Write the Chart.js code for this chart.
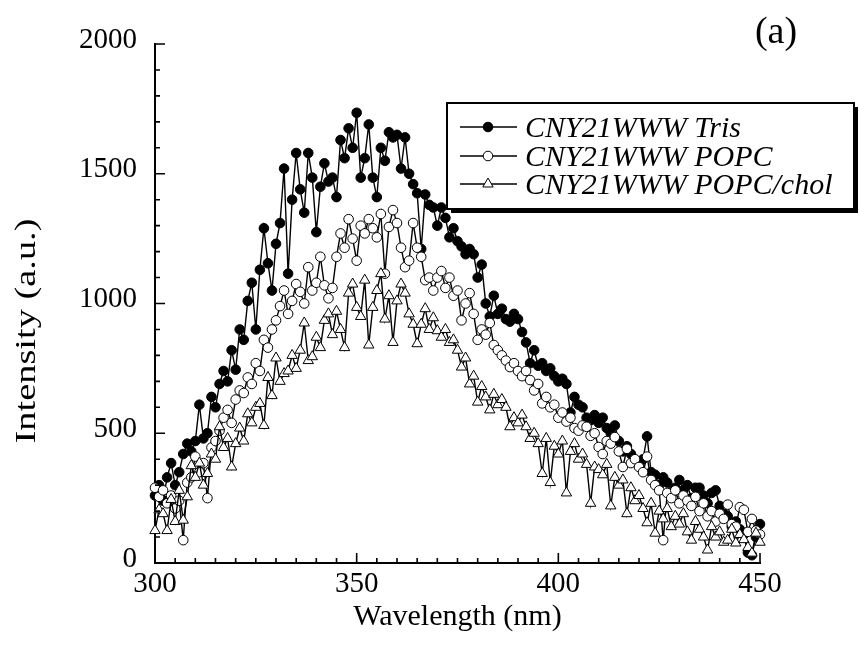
<!DOCTYPE html>
<html>
<head>
<meta charset="utf-8">
<script src="https://cdn.jsdelivr.net/npm/chart.js@4.4.1/dist/chart.umd.min.js"></script>
<style>
  html, body { margin: 0; padding: 0; background: #fff; }
  #wrap { position: relative; width: 860px; height: 649px; }
</style>
</head>
<body>
<div id="wrap"><canvas id="chart_intensity"></canvas></div>
<script>
// wavelength in nm, one reading per nm
var wavelength = [
  300, 301, 302, 303, 304, 305, 306, 307, 308, 309, 310, 311, 312, 313, 314, 315, 316, 317, 318, 319,
  320, 321, 322, 323, 324, 325, 326, 327, 328, 329, 330, 331, 332, 333, 334, 335, 336, 337, 338, 339,
  340, 341, 342, 343, 344, 345, 346, 347, 348, 349, 350, 351, 352, 353, 354, 355, 356, 357, 358, 359,
  360, 361, 362, 363, 364, 365, 366, 367, 368, 369, 370, 371, 372, 373, 374, 375, 376, 377, 378, 379,
  380, 381, 382, 383, 384, 385, 386, 387, 388, 389, 390, 391, 392, 393, 394, 395, 396, 397, 398, 399,
  400, 401, 402, 403, 404, 405, 406, 407, 408, 409, 410, 411, 412, 413, 414, 415, 416, 417, 418, 419,
  420, 421, 422, 423, 424, 425, 426, 427, 428, 429, 430, 431, 432, 433, 434, 435, 436, 437, 438, 439,
  440, 441, 442, 443, 444, 445, 446, 447, 448, 449, 450
];

var tris = [
  260, 300, 240, 330, 385, 300, 350, 420, 460, 430, 470, 610, 480, 500, 640, 600, 690, 740, 700, 820,
  745, 900, 860, 1010, 1080, 900, 1130, 1290, 1155, 1050, 1230, 1310, 1520, 1115, 1400, 1580, 1440, 1350, 1580, 1485,
  1275, 1450, 1540, 1470, 1485, 1410, 1630, 1560, 1675, 1600, 1735, 1485, 1560, 1690, 1485, 1410, 1600, 1550, 1660, 1640,
  1650, 1520, 1640, 1500, 1460, 1425, 1210, 1420, 1380, 1370, 1300, 1370, 1330, 1255, 1290, 1240, 1220, 1190, 1210, 1190,
  1100, 1150, 1000, 950, 1030, 960, 980, 940, 930, 960, 940, 890, 850, 770, 820, 760, 770, 740, 750, 720,
  700, 710, 690, 580, 640, 610, 600, 560, 550, 570, 540, 560, 520, 500, 530, 470, 430, 450, 420, 390,
  380, 400, 488, 350, 340, 300, 330, 310, 270, 290, 320, 280, 300, 250, 290, 290, 260, 230, 270, 280,
  220, 190, 180, 140, 160, 130, 110, 40, 30, 100, 150
];

var popc = [
  290, 255, 280, 230, 260, 210, 240, 88, 310, 330, 410, 350, 385, 250, 445, 470, 510, 560, 590, 540,
  630, 665, 655, 715, 690, 770, 740, 860, 830, 900, 935, 990, 1050, 960, 1010, 1075, 1045, 1000, 1140, 1050,
  1080, 1180, 1070, 1020, 1060, 1180, 1270, 1215, 1325, 1250, 1165, 1300, 1270, 1325, 1290, 1255, 1345, 1115, 1295, 1360,
  1310, 1215, 1140, 1165, 1310, 1215, 1180, 1090, 1100, 1050, 1100, 1125, 1060, 1100, 1030, 1050, 935, 1000, 1040, 960,
  860, 900, 880, 925, 840, 820, 800, 780, 755, 770, 740, 720, 740, 705, 665, 690, 615, 640, 600, 610,
  560, 580, 545, 560, 520, 510, 530, 525, 490, 500, 447, 420, 470, 460, 485, 430, 370, 440, 385, 400,
  370, 350, 410, 320, 300, 280, 88, 270, 250, 280, 230, 260, 240, 220, 255, 200, 230, 180, 200, 160,
  190, 170, 225, 150, 140, 215, 205, 120, 170, 125, 110
];

var popcChol = [
  125, 205, 190, 125, 245, 160, 280, 165, 255, 375, 330, 385, 300, 345, 420, 400, 525, 445, 480, 370,
  460, 520, 470, 575, 540, 600, 615, 530, 715, 645, 790, 700, 730, 740, 800, 750, 820, 925, 780, 795,
  870, 830, 935, 960, 880, 970, 900, 830, 1040, 1075, 985, 950, 1090, 840, 985, 1050, 1115, 940, 1030, 850,
  1010, 1075, 1040, 960, 920, 845, 920, 980, 900, 945, 895, 870, 900, 850, 860, 820, 755, 790, 690, 720,
  620, 680, 640, 590, 650, 610, 630, 600, 525, 560, 540, 570, 525, 480, 500, 460, 345, 480, 310, 450,
  420, 470, 270, 430, 460, 400, 420, 380, 230, 370, 360, 340, 380, 220, 330, 300, 320, 190, 290, 240,
  260, 210, 155, 230, 115, 200, 170, 210, 140, 180, 150, 190, 120, 88, 160, 130, 100, 50, 140, 100,
  120, 80, 88, 130, 77, 110, 90, 60, 38, 115, 80
];

var seriesLabels = ['CNY21WWW Tris', 'CNY21WWW POPC', 'CNY21WWW POPC/chol'];
var xTitle = 'Wavelength (nm)';
var yTitle = 'Intensity (a.u.)';
var panelTag = '(a)';
var xMin = 300, xMax = 450, xMajor = 50, xMinor = 5;
var yMin = 0, yMax = 2000, yMajor = 500, yMinor = 100;

function toPoints(values) {
  return wavelength.map(function (w, i) { return { x: w, y: values[i] }; });
}

var SERIF = '"Liberation Serif", "Times New Roman", serif';

var styles = [
  { pointStyle: 'circle', radius: 4.8, fill: '#000' },
  { pointStyle: 'circle', radius: 4.8, fill: '#fff' },
  { pointStyle: 'triangle', radius: 6, fill: '#fff' }
];

function makeDataset(i, values) {
  return {
    label: seriesLabels[i],
    data: toPoints(values),
    showLine: true,
    borderColor: '#000',
    borderWidth: 1.4,
    pointStyle: styles[i].pointStyle,
    pointRadius: styles[i].radius,
    pointBackgroundColor: styles[i].fill,
    pointBorderColor: '#000',
    pointBorderWidth: 1,
    order: 3 - i,
    clip: false
  };
}

var decorPlugin = {
  id: 'decorPlugin',
  afterDraw: function (chart) {
    var ctx = chart.ctx;
    var xs = chart.scales.x, ys = chart.scales.y;
    var area = chart.chartArea;
    ctx.save();
    ctx.strokeStyle = '#000';
    ctx.lineWidth = 1.6;
    ctx.beginPath();
    // inward tick marks, minor and major
    for (var v = xMin; v <= xMax; v += xMinor) {
      var px = xs.getPixelForValue(v);
      var len = (v % xMajor === 0) ? 10 : 5;
      ctx.moveTo(px, area.bottom);
      ctx.lineTo(px, area.bottom - len);
    }
    for (var w = yMin; w <= yMax; w += yMinor) {
      var py = ys.getPixelForValue(w);
      var len2 = (w % yMajor === 0) ? 10 : 5;
      ctx.moveTo(area.left, py);
      ctx.lineTo(area.left + len2, py);
    }
    ctx.stroke();

    // axis titles
    ctx.fillStyle = '#000';
    ctx.font = '30px ' + SERIF;
    ctx.textAlign = 'center';
    ctx.textBaseline = 'alphabetic';
    ctx.fillText(xTitle, (area.left + area.right) / 2, 625);
    ctx.save();
    ctx.translate(35, 331);
    ctx.rotate(-Math.PI / 2);
    ctx.scale(1.28, 1);
    ctx.fillText(yTitle, 0, 0);
    ctx.restore();

    // panel tag
    ctx.font = '38px ' + SERIF;
    ctx.fillText(panelTag, 776, 43);

    // legend box with drop shadow
    var bx = 447, by = 103, bw = 407, bh = 106;
    ctx.fillStyle = '#000';
    ctx.fillRect(bx + 4, by + 4, bw, bh);
    ctx.fillStyle = '#fff';
    ctx.fillRect(bx, by, bw, bh);
    ctx.lineWidth = 2;
    ctx.strokeRect(bx, by, bw, bh);

    var rowY = [127, 156, 184];
    ctx.font = 'italic 30px ' + SERIF;
    ctx.textAlign = 'left';
    for (var i = 0; i < 3; i++) {
      var y = rowY[i];
      ctx.strokeStyle = '#000';
      ctx.lineWidth = 1.3;
      ctx.beginPath();
      ctx.moveTo(460, y);
      ctx.lineTo(517, y);
      ctx.stroke();
      ctx.fillStyle = styles[i].fill;
      ctx.lineWidth = 1;
      Chart.helpers.drawPoint(ctx, {
        pointStyle: styles[i].pointStyle,
        radius: styles[i].radius,
        borderWidth: 1,
        rotation: 0
      }, 488, y);
      ctx.fillStyle = '#000';
      ctx.fillText(seriesLabels[i], 525, y + 10);
    }
    ctx.restore();
  }
};

function plainTick(value) { return String(value); }

var chart_intensity = new Chart(document.getElementById('chart_intensity'), {
  type: 'scatter',
  data: {
    datasets: [
      makeDataset(0, tris),
      makeDataset(1, popc),
      makeDataset(2, popcChol)
    ]
  },
  options: {
    animation: false,
    responsive: true,
    maintainAspectRatio: false,
    layout: { padding: { top: 44, right: 100, left: 0, bottom: 0 } },
    plugins: {
      legend: { display: false },
      tooltip: { enabled: false }
    },
    scales: {
      x: {
        type: 'linear',
        min: xMin,
        max: xMax,
        afterFit: function (s) { s.height = 86; },
        grid: { display: false, drawTicks: false },
        border: { display: true, color: '#000', width: 2 },
        ticks: {
          stepSize: xMajor,
          padding: 4,
          color: '#000',
          callback: plainTick,
          font: { family: SERIF, size: 29 }
        }
      },
      y: {
        type: 'linear',
        min: yMin,
        max: yMax,
        afterFit: function (s) { s.width = 155; },
        grid: { display: false, drawTicks: false },
        border: { display: true, color: '#000', width: 2 },
        ticks: {
          stepSize: yMajor,
          padding: 18,
          labelOffset: -4,
          color: '#000',
          callback: plainTick,
          font: { family: SERIF, size: 29 }
        }
      }
    }
  },
  plugins: [decorPlugin]
});
</script>
</body>
</html>
